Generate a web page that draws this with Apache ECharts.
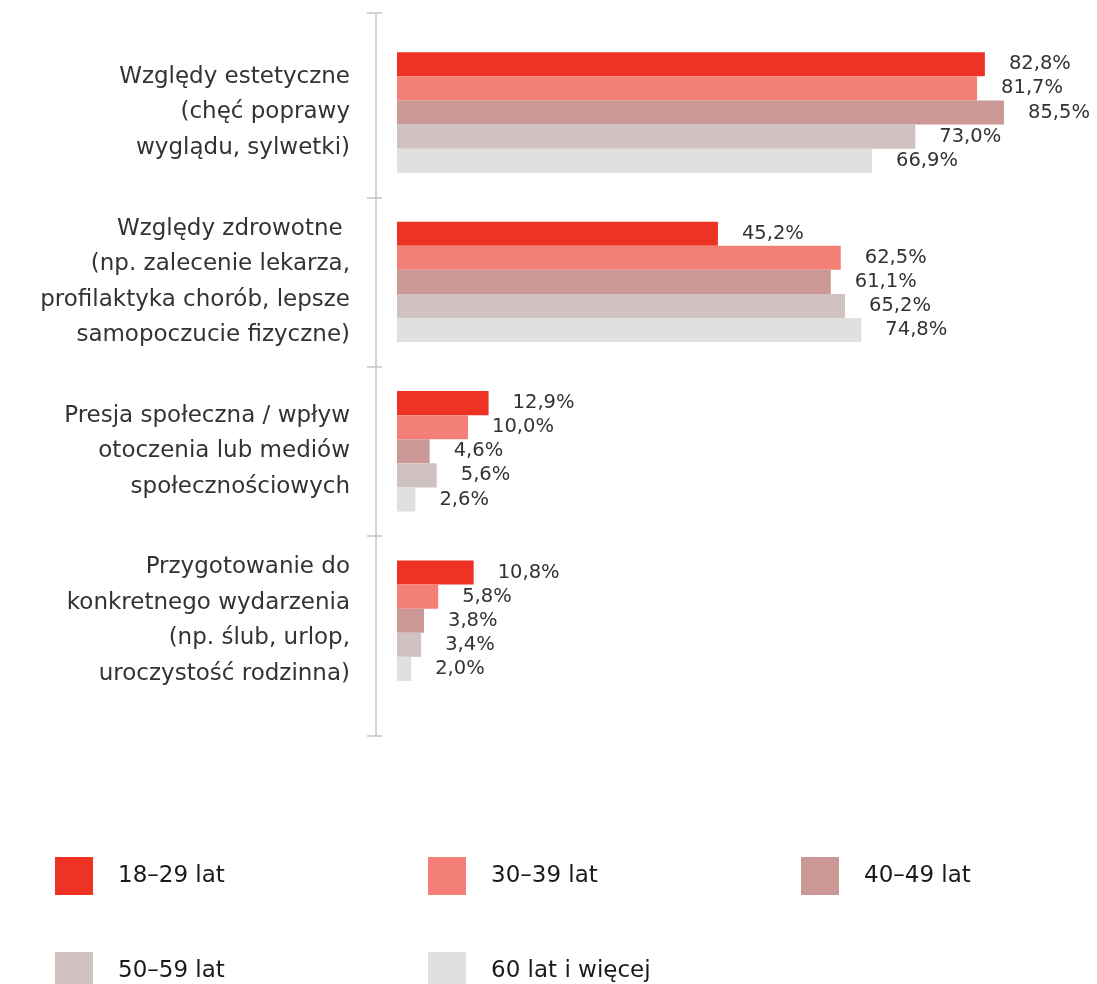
<!DOCTYPE html>
<html>
<head>
<meta charset="utf-8">
<script src="https://cdn.jsdelivr.net/npm/echarts@6/dist/echarts.min.js"></script>
<style>
html,body{margin:0;padding:0;background:#fff;}
#chart{width:1097px;height:984px;}
</style>
</head>
<body>
<div id="chart"></div>
<script>
var categories = [
  "Względy estetyczne\n(chęć poprawy\nwyglądu, sylwetki)",
  "Względy zdrowotne \n(np. zalecenie lekarza,\nprofilaktyka chorób, lepsze\nsamopoczucie fizyczne)",
  "Presja społeczna / wpływ\notoczenia lub mediów\nspołecznościowych",
  "Przygotowanie do\nkonkretnego wydarzenia\n(np. ślub, urlop,\nuroczystość rodzinna)"
];
var seriesNames = ["18–29 lat", "30–39 lat", "40–49 lat", "50–59 lat", "60 lat i więcej"];
// printed values (labels)
var age18_29 = [82.8, 45.2, 12.9, 10.8];
var age30_39 = [81.7, 62.5, 10.0, 5.8];
var age40_49 = [85.5, 61.1, 4.6, 3.8];
var age50_59 = [73.0, 65.2, 5.6, 3.4];
var age60plus = [66.9, 74.8, 2.6, 2.0];
// bar lengths as drawn in the source picture (differ from labels in "Względy zdrowotne")
var age50_59Bars = [73.0, 63.1, 5.6, 3.4];
var age60plusBars = [66.9, 65.4, 2.6, 2.0];

var labelValues = [age18_29, age30_39, age40_49, age50_59, age60plus];
var barValues = [age18_29, age30_39, age40_49, age50_59Bars, age60plusBars];
var colors = ["#EE3325", "#F47F77", "#CC9896", "#D0C2C1", "#E0E0E0"];

var FONT = "'DejaVu Sans', sans-serif";
var TXT = "#333333";

var chart = echarts.init(document.getElementById('chart'), null, {renderer: 'canvas'});

var series = seriesNames.map(function (name, i) {
  return {
    name: name,
    type: 'bar',
    xAxisIndex: 0,
    yAxisIndex: 0,
    data: barValues[i],
    barGap: '0%',
    barCategoryGap: '28.9%',
    itemStyle: {color: colors[i]},
    label: {
      show: true,
      position: 'right',
      distance: 24,
      fontFamily: FONT,
      fontSize: 19.5,
      color: TXT,
      formatter: function (p) {
        return labelValues[i][p.dataIndex].toFixed(1).replace('.', ',') + '%';
      }
    },
    silent: true
  };
});

var legendData = seriesNames.map(function (name, i) {
  var d = {name: name, icon: 'rect'};
  if (i === 2) d.textStyle = {width: 130};
  return d;
});

chart.setOption({
  animation: false,
  backgroundColor: '#ffffff',
  grid: [
    {left: 397, top: 27.8, width: 639, height: 677.6, containLabel: false},
    {left: 376, top: 13, width: 10, height: 723, containLabel: false}
  ],
  xAxis: [
    {gridIndex: 0, type: 'value', min: 0, max: 90, show: false},
    {gridIndex: 1, type: 'value', min: 0, max: 1, show: false}
  ],
  yAxis: [
    {
      gridIndex: 0, type: 'category', data: categories, inverse: true,
      axisLine: {show: false}, axisTick: {show: false},
      axisLabel: {
        margin: 47, fontFamily: FONT, fontSize: 23, lineHeight: 35.5,
        color: TXT, align: 'right', padding: [6, 0, 0, 0]
      }
    },
    {
      gridIndex: 1, type: 'value', position: 'left', inverse: true,
      min: -0.59, max: 3.68,
      axisLine: {show: true, lineStyle: {color: '#C4C4C4', width: 1.5}},
      axisTick: {show: true, length: 9, inside: false, customValues: [-0.59, 0.5, 1.5, 2.5, 3.68],
        lineStyle: {color: '#C4C4C4', width: 1.5}},
      axisLabel: {show: false},
      splitLine: {show: false}
    },
    {
      gridIndex: 1, type: 'value', position: 'left', inverse: true,
      min: -0.59, max: 3.68,
      axisLine: {show: false},
      axisTick: {show: true, length: 6, inside: true, customValues: [-0.59, 0.5, 1.5, 2.5, 3.68],
        lineStyle: {color: '#C4C4C4', width: 1.5}},
      axisLabel: {show: false},
      splitLine: {show: false}
    }
  ],
  legend: {
    data: legendData,
    orient: 'horizontal',
    left: 55,
    top: 857,
    width: 1000,
    padding: 0,
    itemWidth: 38,
    itemHeight: 38,
    itemGap: 57,
    selectedMode: false,
    textStyle: {
      fontFamily: FONT, fontSize: 23, color: '#1a1a1a',
      lineHeight: 38, width: 253, padding: [0, 0, 0, 20]
    }
  },
  series: series
});
</script>
</body>
</html>
